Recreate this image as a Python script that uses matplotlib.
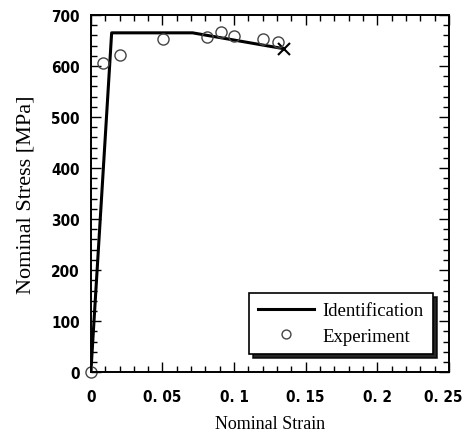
import matplotlib
matplotlib.use("Agg")
import numpy as np
from matplotlib import pyplot as plt
from matplotlib.ticker import MultipleLocator
from matplotlib.transforms import ScaledTranslation

# identification (bilinear-ish) curve
ident_strain = [0.0, 0.0145, 0.071, 0.1345]
ident_stress = [0, 665, 665, 634]

# experimental points
exp_strain = [0.0, 0.0082, 0.0203, 0.0505, 0.0808, 0.0908, 0.100, 0.1204, 0.1308]
exp_stress = [0, 605, 622, 652, 657, 666, 658, 652, 648]

xticks = [0, 0.05, 0.1, 0.15, 0.2, 0.25]
xticklabels = ['0', '0. 05', '0. 1', '0. 15', '0. 2', '0. 25']
yticks = [0, 100, 200, 300, 400, 500, 600, 700]

fig = plt.figure(figsize=(4.66, 4.39), dpi=100)
ax = fig.add_axes([0.195, 0.150, 0.7685, 0.8136])

ax.plot(ident_strain, ident_stress, 'k-', lw=2.2, label='Identification')
ax.plot(ident_strain[-1], ident_stress[-1], 'kx', ms=9, mew=1.5)
ax.plot(exp_strain, exp_stress, 'o', mfc='none', mec='#444444', ms=8, mew=1.0,
        label='Experiment', clip_on=False)

ax.set_xlim(0, 0.25)
ax.set_ylim(0, 700)
ax.set_xticks(xticks)
ax.set_xticklabels(xticklabels)
ax.set_yticks(yticks)
ax.xaxis.set_minor_locator(MultipleLocator(0.01))
ax.yaxis.set_minor_locator(MultipleLocator(20))
ax.tick_params(which='both', direction='in', top=True, right=True, width=1.0)
ax.tick_params(which='major', length=7)
ax.tick_params(which='minor', length=4)
for sp in ax.spines.values():
    sp.set_linewidth(1.4)

# narrow bold sans for tick numbers
for lab in ax.get_xticklabels() + ax.get_yticklabels():
    lab.set_fontfamily('DejaVu Sans')
    lab.set_fontstretch('condensed')
    lab.set_fontweight('bold')
    lab.set_fontsize(11)
ax.tick_params(axis='x', pad=12)
ax.tick_params(axis='y', pad=8)
# keep the last x label inside the figure
last = ax.get_xticklabels()[-1]
last.set_transform(last.get_transform() + ScaledTranslation(-4 / 72, 0, fig.dpi_scale_trans))

ax.set_xlabel('Nominal Strain', family='Liberation Serif', fontsize=13, labelpad=8)
ax.set_ylabel('Nominal Stress [MPa]', family='Liberation Serif', fontsize=16, labelpad=11)

leg = ax.legend(loc='lower right', bbox_to_anchor=(0.97, 0.035), fancybox=False,
                shadow={'color': 'k', 'alpha': 0.85, 'ox': 3, 'oy': -3},
                edgecolor='k', framealpha=1,
                prop={'family': 'Liberation Serif', 'size': 13.5},
                handlelength=3.0, handletextpad=0.4, borderpad=0.5,
                labelspacing=0.45, borderaxespad=0.3, markerscale=0.8)
leg.get_frame().set_linewidth(1.2)

fig.savefig('out.png', dpi=100)
